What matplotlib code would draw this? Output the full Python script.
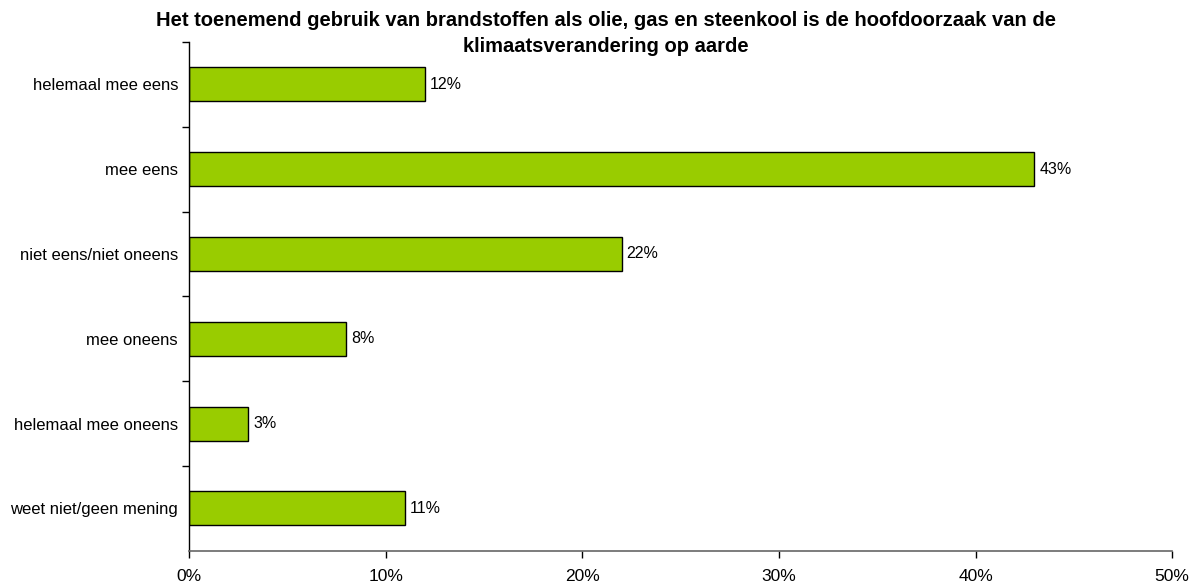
import matplotlib
matplotlib.use("Agg")
import matplotlib.pyplot as plt
from matplotlib.ticker import FixedLocator, PercentFormatter

plt.rcParams["font.family"] = ["Liberation Sans", "DejaVu Sans"]

# DATA
categories = [
    "helemaal mee eens",
    "mee eens",
    "niet eens/niet oneens",
    "mee oneens",
    "helemaal mee oneens",
    "weet niet/geen mening",
]
values = [12, 43, 22, 8, 3, 11]
x_ticks = [0, 10, 20, 30, 40, 50]

TITLE = ("Het toenemend gebruik van brandstoffen als olie, gas en steenkool is de hoofdoorzaak van de\n"
         "klimaatsverandering op aarde")
BAR_COLOR = "#99CC00"

fig = plt.figure(figsize=(11.97, 5.84), dpi=100)
ax = fig.add_axes([0.158, 0.057, 0.8212, 0.871])

y = list(range(len(categories)))
ax.barh(y, values, height=0.4, color=BAR_COLOR, edgecolor="black", linewidth=1)

for yi, v in zip(y, values):
    ax.annotate(f"{v}%", (v, yi), xytext=(3.5, 0), textcoords="offset points",
                va="center", ha="left", fontsize=11.5)

ax.set_xlim(0, 50)
ax.set_ylim(len(categories) - 0.5, -0.5)

ax.set_yticks(y)
ax.set_yticklabels(categories, fontsize=12)
ax.tick_params(axis="y", which="major", length=0, pad=8)
ax.yaxis.set_minor_locator(FixedLocator([i - 0.5 for i in range(len(categories))]))
ax.tick_params(axis="y", which="minor", length=5, width=1, direction="out")

ax.set_xticks(x_ticks)
ax.xaxis.set_major_formatter(PercentFormatter(decimals=0))
ax.tick_params(axis="x", length=5, width=1, direction="out", labelsize=12.5, pad=8)

for s in ["top", "right"]:
    ax.spines[s].set_visible(False)
ax.spines["left"].set_linewidth(1)
ax.spines["bottom"].set_color("#666666")
ax.spines["bottom"].set_linewidth(1.2)

fig.text(0.506, 1 - 11 / 584, TITLE, ha="center", va="top", fontsize=14.5,
         fontweight="bold", linespacing=1.45)

fig.savefig("out.png", dpi=100)
